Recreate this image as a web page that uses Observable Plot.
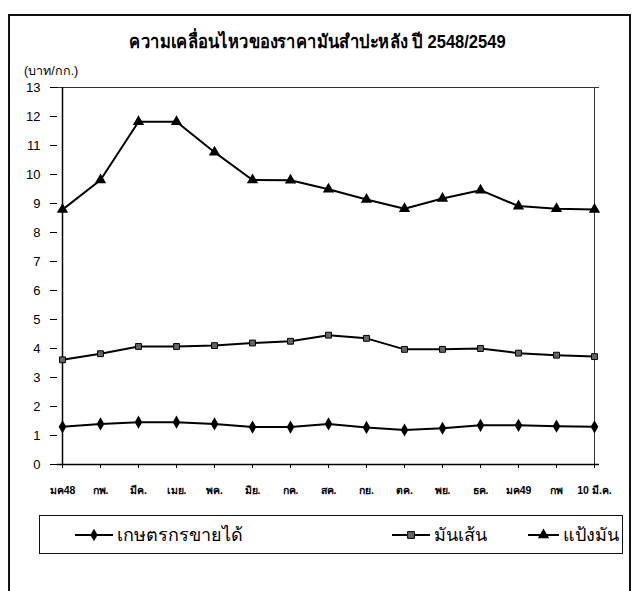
<!DOCTYPE html>
<html>
<head>
<meta charset="utf-8">
<script src="https://cdn.jsdelivr.net/npm/d3@7"></script>
<script src="https://cdn.jsdelivr.net/npm/@observablehq/plot@0.6"></script>
<style>
  html, body { margin: 0; padding: 0; background: #fff; }
  #wrap { position: relative; width: 635px; height: 591px; overflow: hidden; font-family: "Liberation Sans", Arial, sans-serif; color: #000; }
  #outer { position: absolute; left: 8px; top: 14px; width: 619px; height: 600px; border: 2px solid #111; }
  #title { position: absolute; left: 0; width: 635px; top: 26px; text-align: center; font-size: 19px; font-weight: bold; transform: scaleX(0.87); transform-origin: 318px 0; white-space: nowrap; }
  #unit { position: absolute; left: 24px; top: 61px; font-size: 12.5px; white-space: nowrap; }
  #chart { position: absolute; left: 0; top: 0; }
  #legend { position: absolute; left: 39px; top: 515px; width: 582px; height: 37px; border: 1px solid #111; }
  .item { position: absolute; top: 0; height: 37px; display: flex; align-items: center; font-size: 18px; white-space: nowrap; }
  .item svg { margin-right: 4px; flex: none; }
</style>
</head>
<body>
<div id="wrap">
  <div id="outer"></div>
  <div id="title"></div>
  <div id="unit"></div>
  <div id="chart"></div>
  <div id="legend"></div>
</div>
<script>
const titleText = "ความเคลื่อนไหวของราคามันสำปะหลัง ปี 2548/2549";
const unitText = "(บาท/กก.)";
const months = ["มค48","กพ.","มีค.","เมย.","พค.","มิย.","กค.","สค.","กย.","ตค.","พย.","ธค.","มค49","กพ","10 มี.ค."];
const seriesNames = ["เกษตรกรขายได้","มันเส้น","แป้งมัน"];
const farmer = [1.30,1.40,1.46,1.46,1.40,1.29,1.29,1.40,1.28,1.19,1.25,1.35,1.35,1.32,1.30];
const chips  = [3.61,3.82,4.07,4.07,4.10,4.19,4.25,4.46,4.35,3.97,3.97,4.00,3.84,3.77,3.72];
const starch = [8.79,9.81,11.82,11.82,10.77,9.81,9.80,9.49,9.14,8.82,9.17,9.46,8.91,8.82,8.79];
const yTicks = [0,1,2,3,4,5,6,7,8,9,10,11,12,13];

const seriesValues = [farmer, chips, starch];
const symbols = ["diamond", "square", "triangle"];
const rows = seriesNames.flatMap((s, k) => months.map((m, i) => ({series: s, month: m, value: seriesValues[k][i]})));

document.getElementById("title").textContent = titleText;
document.getElementById("unit").textContent = unitText;

const chart = Plot.plot({
  width: 635,
  height: 591,
  marginLeft: 57,
  marginRight: 36,
  marginTop: 87,
  marginBottom: 127,
  style: { fontFamily: "'Liberation Sans', Arial, sans-serif", background: "transparent", color: "#000" },
  x: { type: "point", domain: months, padding: 0, axis: null },
  y: { domain: [0, 13], axis: null },
  symbol: { domain: seriesNames, range: symbols },
  marks: [
    Plot.ruleY([yTicks[yTicks.length - 1]], { stroke: "#333", strokeWidth: 1 }),
    Plot.ruleX([months[months.length - 1]], { stroke: "#333", strokeWidth: 1 }),
    Plot.axisY({ ticks: yTicks, tickSize: 7, tickPadding: 10, fontSize: 13, tickFormat: d => String(d), stroke: "#000", label: null }),
    Plot.axisX({ tickSize: 4, tickPadding: 18, fontSize: 10.5, fontWeight: "bold", stroke: "#000", label: null }),
    Plot.ruleY([0], { stroke: "#000", strokeWidth: 1.5 }),
    Plot.ruleX([months[0]], { stroke: "#000", strokeWidth: 1.5 }),
    Plot.line(rows, { x: "month", y: "value", z: "series", stroke: "#000", strokeWidth: 2 }),
    Plot.dot(rows.filter(d => d.series === seriesNames[0]), { x: "month", y: "value", symbol: "series", fill: "#000", r: 4 }),
    Plot.dot(rows.filter(d => d.series === seriesNames[1]), { x: "month", y: "value", symbol: "series", fill: "#666", stroke: "#000", strokeWidth: 1, r: 3.3 }),
    Plot.dot(rows.filter(d => d.series === seriesNames[2]), { x: "month", y: "value", symbol: "series", fill: "#000", r: 4.2 })
  ]
});
document.getElementById("chart").appendChild(chart);

// legend built from the same series names and symbol scale
const legend = document.getElementById("legend");
const itemLeft = [35, 352, 488];
const lineLen = [38, 38, 31];
const sym = chart.scale("symbol");
seriesNames.forEach((name, k) => {
  const div = document.createElement("div");
  div.className = "item";
  div.style.left = itemLeft[k] + "px";
  const w = lineLen[k];
  const svg = d3.create("svg").attr("width", w).attr("height", 14);
  svg.append("line").attr("x1", 0).attr("x2", w).attr("y1", 7).attr("y2", 7).attr("stroke", "#000").attr("stroke-width", 2);
  svg.append("path").attr("d", d3.symbol(sym.apply(name), k === 2 ? 56 : 46)()).attr("transform", `translate(${w / 2},7)`)
    .attr("fill", k === 1 ? "#666" : "#000").attr("stroke", k === 1 ? "#000" : "none");
  div.appendChild(svg.node());
  const span = document.createElement("span");
  span.textContent = name;
  div.appendChild(span);
  legend.appendChild(div);
});
</script>
</body>
</html>
